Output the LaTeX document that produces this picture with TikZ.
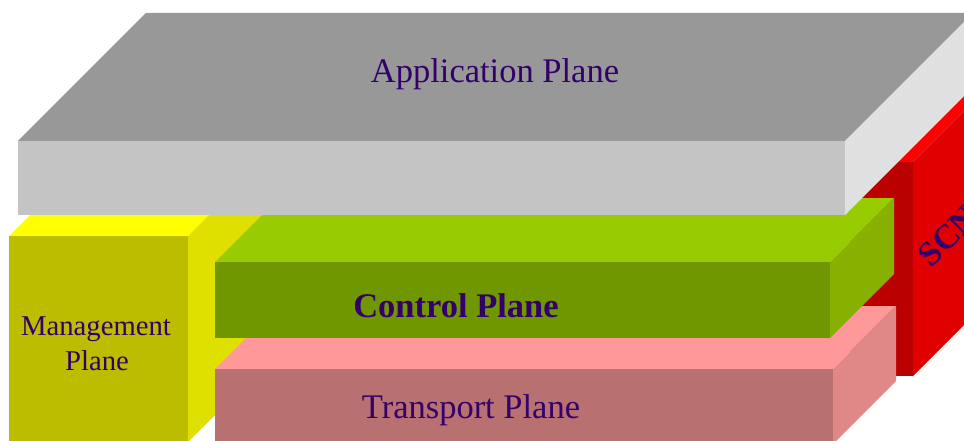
\documentclass[tikz,border=0pt]{standalone}
\usepackage{fontspec}
\setmainfont{Liberation Serif}

\definecolor{viola}{HTML}{33006B}
\definecolor{appsopra}{HTML}{989898}
\definecolor{appfronte}{HTML}{C4C4C4}
\definecolor{applato}{HTML}{E0E0E0}
\definecolor{scnsopra}{HTML}{FF0000}
\definecolor{scnfronte}{HTML}{BB0000}
\definecolor{scnlato}{HTML}{E00000}
\definecolor{mgmsopra}{HTML}{FFFF00}
\definecolor{mgmfronte}{HTML}{BDBD00}
\definecolor{mgmlato}{HTML}{E0E000}
\definecolor{ctrsopra}{HTML}{99CC00}
\definecolor{ctrfronte}{HTML}{709600}
\definecolor{ctrlato}{HTML}{88B000}
\definecolor{trpsopra}{HTML}{FF9999}
\definecolor{trpfronte}{HTML}{B87070}
\definecolor{trplato}{HTML}{E08888}

\begin{document}
\begin{tikzpicture}[x=1pt, y=-1pt,
		testo/.style={color=viola, anchor=base, font=\fontsize{34.5}{40}\selectfont},
		testopiccolo/.style={color=viola, anchor=base, font=\fontsize{28.7}{35}\selectfont}]
		\useasboundingbox (0,0) rectangle (964,441);
		\clip (0,0) rectangle (964,441);
		
		% blocco SCN
		\fill[color=scnfronte] (850,162) rectangle (913,376);
		\fill[color=scnsopra] (850,162) -- (978,34) -- (1041,34) -- (913,162) -- cycle;
		\fill[color=scnlato] (913,162) -- (1041,34) -- (1041,248) -- (913,376) -- cycle;
		\node[testo, font=\fontsize{34.5}{40}\selectfont\bfseries, rotate=45, anchor=base west] (scn) at (929,271) {SCN};
		
		% piano di gestione
		\fill[color=mgmsopra] (9,236) -- (137,108) -- (316,108) -- (188,236) -- cycle;
		\fill[color=mgmfronte] (9,236) rectangle (188,442);
		\fill[color=mgmlato] (188,236) -- (316,108) -- (316,314) -- (188,442) -- cycle;
		\node[testopiccolo] (mgm) at (96,335) {Management};
		\node[testopiccolo] (mgm2) at (97,370) {Plane};
		
		% piano di trasporto
		\fill[color=trpsopra] (215,369) -- (278,306) -- (896,306) -- (833,369) -- cycle;
		\fill[color=trpfronte] (215,369) rectangle (833,444);
		\fill[color=trplato] (833,369) -- (896,306) -- (896,381) -- (833,444) -- cycle;
		\node[testo] (trp) at (471,418) {Transport Plane};
		
		% piano di controllo
		\fill[color=ctrsopra] (215,262) -- (279,198) -- (894,198) -- (830,262) -- cycle;
		\fill[color=ctrfronte] (215,262) rectangle (830,338);
		\fill[color=ctrlato] (830,262) -- (894,198) -- (894,274) -- (830,338) -- cycle;
		\node[testo, font=\fontsize{34.5}{40}\selectfont\bfseries] (ctr) at (456,317) {Control Plane};
		
		% piano applicativo
		\fill[color=appsopra] (18,141) -- (146,13) -- (973,13) -- (845,141) -- cycle;
		\fill[color=appfronte] (18,141) rectangle (845,215);
		\fill[color=applato] (845,141) -- (973,13) -- (973,87) -- (845,215) -- cycle;
		\node[testo] (app) at (495,83) {Application Plane};
	\end{tikzpicture}
\end{document}
